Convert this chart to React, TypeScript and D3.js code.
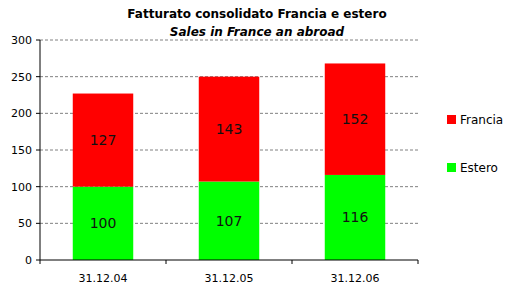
import React from "react";
import * as d3 from "d3";

const categories = ["31.12.04", "31.12.05", "31.12.06"];
const estero = [100, 107, 116];
const francia = [127, 143, 152];
const yTicks = [0, 50, 100, 150, 200, 250, 300];
const seriesNames = ["Francia", "Estero"];
const title = "Fatturato consolidato Francia e estero";
const subtitle = "Sales in France an abroad";

export default function App() {
  const W = 506, H = 290;
  const left = 40, right = 418, top = 40, bottom = 260;
  const x = d3.scaleBand<string>().domain(categories).range([left, right]).paddingInner(0.52).paddingOuter(0.26);
  const y = d3.scaleLinear().domain([0, 300]).range([bottom, top]);
  const font = "'DejaVu Sans', Verdana, sans-serif";
  const band = (right - left) / categories.length;
  return (
    <svg width={W} height={H} style={{ position: "absolute", left: 0, top: 0 }} fontFamily={font}>
      <rect width={W} height={H} fill="#fff" />
      <text x={257} y={18} textAnchor="middle" fontSize={12} fontWeight="bold">{title}</text>
      <text x={257} y={36} textAnchor="middle" fontSize={12} fontWeight="bold" fontStyle="italic">{subtitle}</text>
      {yTicks.filter(t => t > 0).map(t => (
        <line key={"g" + t} x1={left} x2={right} y1={y(t)} y2={y(t)} stroke="#808080" strokeDasharray="3,2" />
      ))}
      {categories.map((c, i) => {
        const x0 = x(c)!;
        const bw = x.bandwidth();
        return (
          <g key={c}>
            <rect x={x0} y={y(estero[i])} width={bw} height={y(0) - y(estero[i])} fill="#00ff00" />
            <rect x={x0} y={y(estero[i] + francia[i])} width={bw} height={y(estero[i]) - y(estero[i] + francia[i])} fill="#ff0000" />
            <text x={x0 + bw / 2} y={y(estero[i] / 2) + 5} textAnchor="middle" fontSize={14} fill="#111">{estero[i]}</text>
            <text x={x0 + bw / 2} y={y(estero[i] + francia[i] / 2) + 5} textAnchor="middle" fontSize={14} fill="#111">{francia[i]}</text>
            <text x={x0 + bw / 2} y={282} textAnchor="middle" fontSize={11}>{c}</text>
          </g>
        );
      })}
      <line x1={left} x2={left} y1={top} y2={bottom} stroke="#000" />
      <line x1={left} x2={right} y1={bottom} y2={bottom} stroke="#000" />
      {yTicks.map(t => (
        <g key={"t" + t}>
          <line x1={left - 4} x2={left} y1={y(t)} y2={y(t)} stroke="#000" />
          <text x={left - 8} y={y(t) + 4} textAnchor="end" fontSize={11}>{t}</text>
        </g>
      ))}
      {d3.range(categories.length + 1).map(i => (
        <line key={"xt" + i} x1={left + band * i} x2={left + band * i} y1={bottom} y2={bottom + 4} stroke="#000" />
      ))}
      <rect x={447} y={115} width={9} height={9} fill="#ff0000" />
      <text x={460} y={124} fontSize={12}>{seriesNames[0]}</text>
      <rect x={447} y={163} width={9} height={9} fill="#00ff00" />
      <text x={460} y={172} fontSize={12}>{seriesNames[1]}</text>
    </svg>
  );
}
